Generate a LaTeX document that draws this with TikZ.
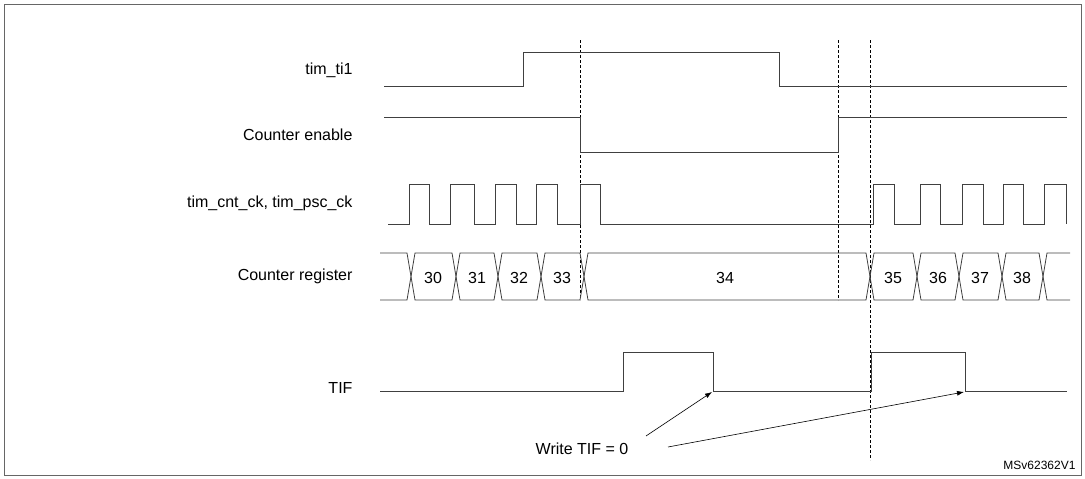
\documentclass[tikz,border=0pt]{standalone}
\usepackage{fontspec}
\setmainfont{Liberation Sans}
\usetikzlibrary{arrows.meta}
\begin{document}
\begin{tikzpicture}[x=1pt,y=-1pt,
  sig/.style={draw=black!75,line width=0.8pt},
  dsh/.style={draw=black,line width=0.5pt,dash pattern=on 3pt off 2pt},
  lbl/.style={anchor=east,font=\fontsize{16}{18}\selectfont},
  num/.style={font=\fontsize{16}{18}\selectfont},
  arr/.style={draw=black,line width=0.6pt,-{Latex[length=7pt,width=5pt]}}]
\useasboundingbox (0,0) rectangle (1085,479);
\draw[black!60,line width=0.8pt] (4,4) rectangle (1081,475);
% labels
\node[lbl] (l1) at (356,70) {tim\_ti1};
\node[lbl] (l2) at (356,135) {Counter enable};
\node[lbl] (l3) at (356,203) {tim\_cnt\_ck, tim\_psc\_ck};
\node[lbl] (l4) at (356,276) {Counter register};
\node[lbl] (l5) at (356,388) {TIF};
% dashed
\draw[dsh] (580,40) -- (580,300);
\draw[dsh] (838,40) -- (838,300);
\draw[dsh] (870,40) -- (870,460);
% ti1
\draw[sig] (384,86) -- (523,86) -- (523,52) -- (779,52) -- (779,86) -- (1067,86);
% enable
\draw[sig] (384,117) -- (580,117) -- (580,152) -- (838,152) -- (838,117) -- (1067,117);
% clock
\draw[sig] (388,224) -- (409,224) -- (409,184) -- (429,184) -- (429,224)
 -- (450,224) -- (450,184) -- (474,184) -- (474,224)
 -- (495,224) -- (495,184) -- (516,184) -- (516,224)
 -- (536,224) -- (536,184) -- (557,184) -- (557,224)
 -- (580,224) -- (580,184) -- (600,184) -- (600,224)
 -- (873,224) -- (873,184) -- (894,184) -- (894,224)
 -- (920,224) -- (920,184) -- (940,184) -- (940,224)
 -- (962,224) -- (962,184) -- (983,184) -- (983,224)
 -- (1003,224) -- (1003,184) -- (1023,184) -- (1023,224)
 -- (1044,224) -- (1044,184) -- (1066,184) -- (1066,224);
% register
\draw[sig] (380,253) -- (407,253) -- (415,300) -- (452,300) -- (460,253) -- (494,253) -- (502,300) -- (537,300) -- (545,253) -- (580,253) -- (588,300) -- (866,300) -- (874,253) -- (913,253) -- (921,300) -- (955,300) -- (963,253) -- (998,253) -- (1006,300) -- (1039,300) -- (1047,253) -- (1070,253);
\draw[sig] (380,300) -- (407,300) -- (415,253) -- (452,253) -- (460,300) -- (494,300) -- (502,253) -- (537,253) -- (545,300) -- (580,300) -- (588,253) -- (866,253) -- (874,300) -- (913,300) -- (921,253) -- (955,253) -- (963,300) -- (998,300) -- (1006,253) -- (1039,253) -- (1047,300) -- (1070,300);
\node[num] (n30) at (433,278) {30};
\node[num] (n31) at (477,278) {31};
\node[num] (n32) at (519,278) {32};
\node[num] (n33) at (562,278) {33};
\node[num] (n34) at (725,278) {34};
\node[num] (n35) at (893,278) {35};
\node[num] (n36) at (938,278) {36};
\node[num] (n37) at (980,278) {37};
\node[num] (n38) at (1022,278) {38};
% TIF
\draw[sig] (380,391) -- (623,391) -- (623,352) -- (713,352) -- (713,391) -- (871,391) -- (871,352) -- (965,352) -- (965,391) -- (1067,391);
\coordinate (t1) at (712,392);
\coordinate (t2) at (964,392);
\coordinate (s2) at (668,447);
\node[num] (w) at (582,449) {Write TIF = 0};
\draw[arr] (646,436) -- (t1);
\draw[arr] (s2) -- (t2);
\node[font=\fontsize{12}{14}\selectfont,anchor=south east] (ms) at (1079,473) {MSv62362V1};
\end{tikzpicture}
\end{document}
